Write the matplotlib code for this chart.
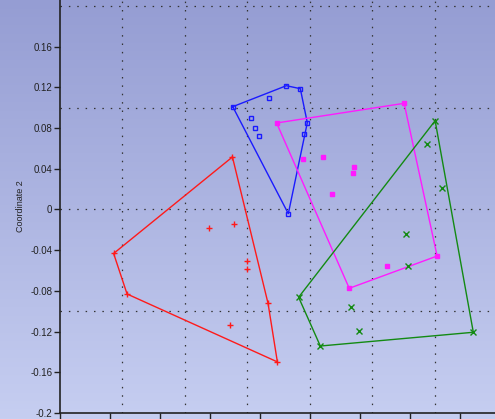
import numpy as np
import matplotlib
matplotlib.use("Agg")
import matplotlib.pyplot as plt
from matplotlib.colors import LinearSegmentedColormap

# ---- data (Coordinate 1, Coordinate 2) ----
red_hull_x = [-0.1241, -0.3142, -0.2927, -0.0522, -0.0671]
red_hull_y = [0.0515, -0.0433, -0.0831, -0.1498, -0.0924]
red_in_x = [-0.1609, -0.1220, -0.1002, -0.1002, -0.1273]
red_in_y = [-0.0180, -0.0143, -0.0504, -0.0583, -0.1140]

blue_hull_x = [-0.1236, -0.0379, -0.0155, -0.0043, -0.0347]
blue_hull_y = [0.1009, 0.1215, 0.1186, 0.0852, -0.0042]
blue_in_x = [-0.0650, -0.0938, -0.0874, -0.0810, -0.0091]
blue_in_y = [0.1097, 0.0893, 0.0795, 0.0724, 0.0736]

mag_hull_x = [-0.0534, 0.1506, 0.2034, 0.0628]
mag_hull_y = [0.0849, 0.1042, -0.0458, -0.0775]
mag_in_x = [-0.0118, 0.0212, 0.0703, 0.0687, 0.0356, 0.1230]
mag_in_y = [0.0495, 0.0515, 0.0417, 0.0355, 0.0151, -0.0556]

green_hull_x = [0.2002, 0.2613, 0.0165, -0.0182]
green_hull_y = [0.0871, -0.1207, -0.1342, -0.0863]
green_in_x = [0.1874, 0.2113, 0.1538, 0.1570, 0.0660, 0.0792]
green_in_y = [0.0645, 0.0213, -0.0239, -0.0556, -0.0956, -0.1192]

y_ticks = [0.16, 0.12, 0.08, 0.04, 0, -0.04, -0.08, -0.12, -0.16, -0.2]
x_ticks = [-0.4, -0.32, -0.24, -0.16, -0.08, 0, 0.08, 0.16, 0.24]
x_grid = [-0.3, -0.2, -0.1, 0, 0.1, 0.2]
y_grid = [0.2, 0.1, 0, -0.1]

W, H = 495, 419
fig = plt.figure(figsize=(W / 100, H / 100), dpi=100)
plt.rcParams['font.family'] = ['Liberation Sans', 'DejaVu Sans']

# gradient background
bg = fig.add_axes([0, 0, 1, 1], zorder=0)
cmap = LinearSegmentedColormap.from_list("bg", ["#959dd3", "#c6cef1"])
grad = np.linspace(0, 1, 256).reshape(-1, 1)
bg.imshow(grad, aspect="auto", cmap=cmap, extent=[0, 1, 0, 1], origin="upper")
bg.set_axis_off()

left_px, bottom_px = 60, 413
ax = fig.add_axes([left_px / W, (H - bottom_px) / H, 1 - left_px / W, bottom_px / H], zorder=1)
ax.patch.set_alpha(0)

x0 = 309.7
sx = 626.0
ax.set_xlim((left_px - x0) / sx, (W - x0) / sx)
ax.set_ylim(-0.2, 0.2057)

for gx in x_grid:
    ax.axvline(gx, color="#333333", lw=0.9, ls=(0, (1.2, 5.5)), zorder=1)
for gy in y_grid:
    ax.axhline(gy, color="#333333", lw=0.9, ls=(0, (1.2, 5.5)), zorder=1)

def group(hx, hy, ix, iy, color, marker, ms, fill):
    ax.plot(hx + hx[:1], hy + hy[:1], color=color, lw=1.0, zorder=3)
    mfc = color if fill else "none"
    ax.plot(hx + ix, hy + iy, ls="none", marker=marker, ms=ms, color=color,
            mfc=mfc, mec=color, mew=1.0, zorder=4)

group(red_hull_x, red_hull_y, red_in_x, red_in_y, "#ff1a1a", "+", 5, True)
group(blue_hull_x, blue_hull_y, blue_in_x, blue_in_y, "#1a1aff", "s", 3.2, False)
group(mag_hull_x, mag_hull_y, mag_in_x, mag_in_y, "#ff1aff", "s", 3.5, True)
group(green_hull_x, green_hull_y, green_in_x, green_in_y, "#138a13", "x", 4, True)

ax.set_yticks(y_ticks)
ax.set_yticklabels([f"{v:g}" for v in y_ticks])
ax.set_xticks(x_ticks)
ax.set_xticklabels([])  # labels fall below the visible area in the reference
ax.tick_params(axis="both", direction="out", length=4, width=1, color="#222222",
               labelsize=7, labelcolor="#222222", pad=1.5)
ax.tick_params(axis="x", length=6)

for s in ["top", "right"]:
    ax.spines[s].set_visible(False)
for s in ["left", "bottom"]:
    ax.spines[s].set_color("#222222")
    ax.spines[s].set_linewidth(1.2)

ax.set_ylabel("Coordinate 2", fontsize=6.5, color="#222222", labelpad=4)

fig.savefig("out.png", dpi=100)
